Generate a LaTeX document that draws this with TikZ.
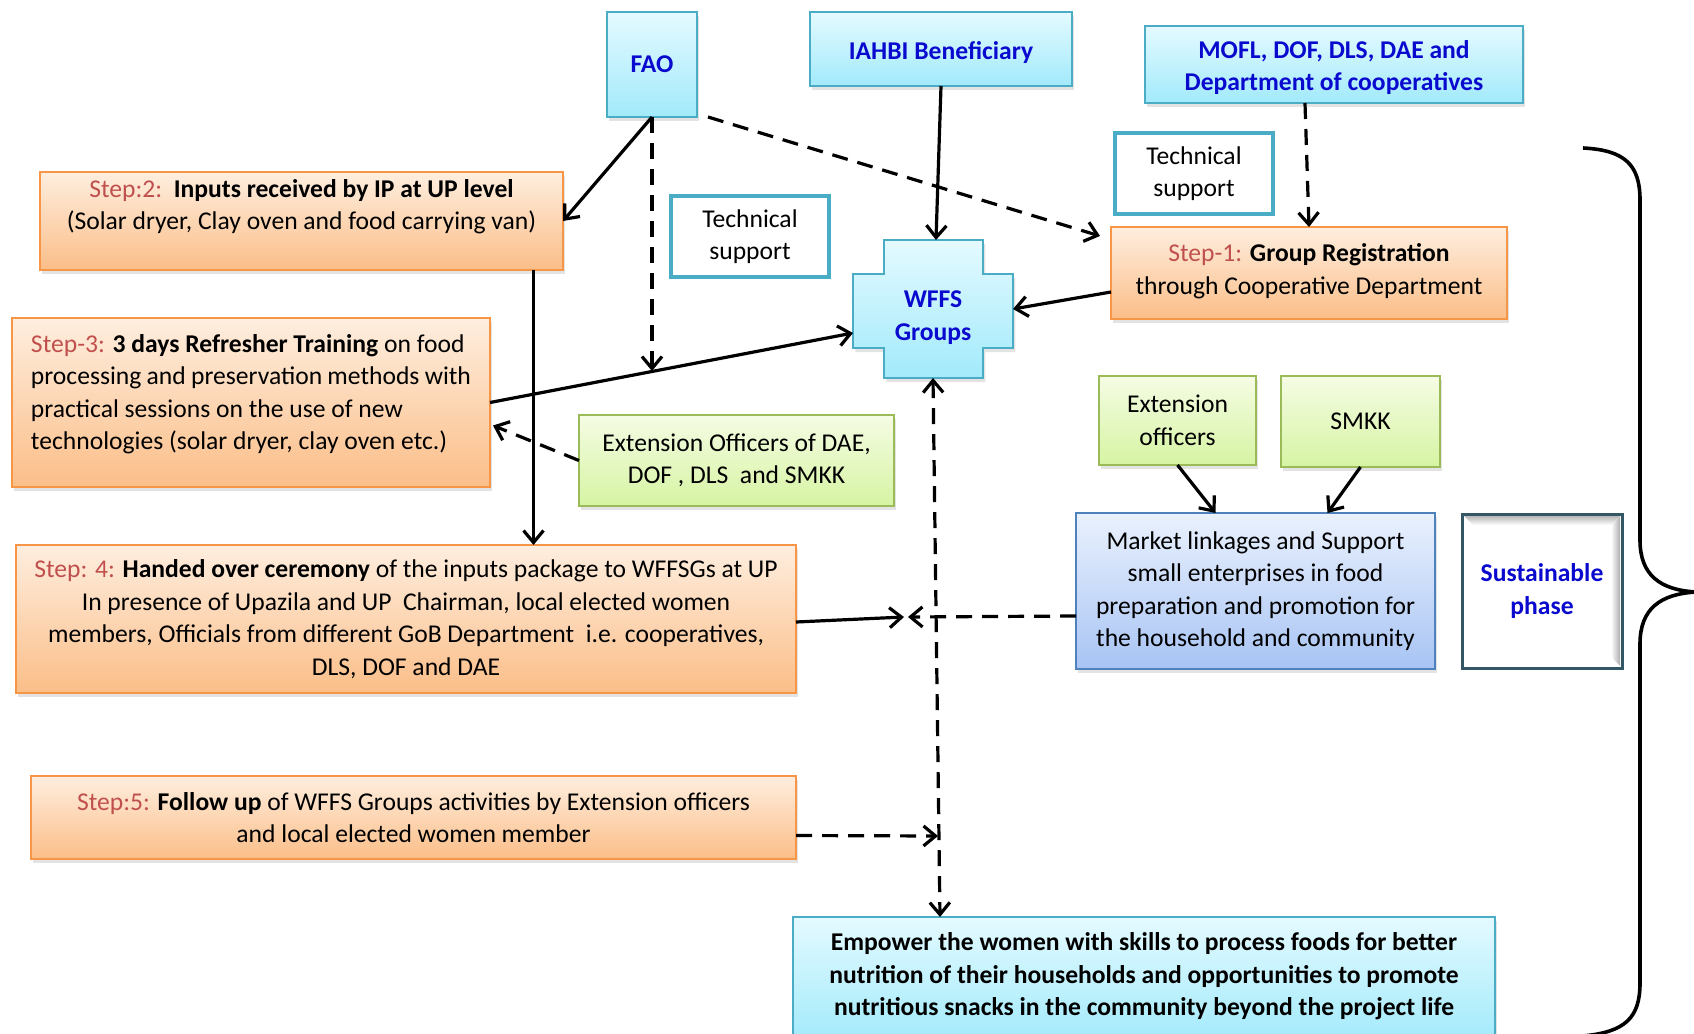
\documentclass[tikz,border=0pt]{standalone}
\usepackage{fontspec}
\setmainfont{Carlito}
\usetikzlibrary{arrows.meta,calc,shadows}
\definecolor{orB}{HTML}{F79646}
\definecolor{orT}{HTML}{FEEEDF}
\definecolor{orD}{HTML}{FBBE88}
\definecolor{cyB}{HTML}{4BACC6}
\definecolor{cyT}{HTML}{E4FAFF}
\definecolor{cyD}{HTML}{A2EAFB}
\definecolor{grB}{HTML}{9BBB59}
\definecolor{grT}{HTML}{F5FCE4}
\definecolor{grD}{HTML}{D6F4A3}
\definecolor{blB}{HTML}{4F81BD}
\definecolor{blT}{HTML}{EAF1FD}
\definecolor{blD}{HTML}{A8C4F4}
\definecolor{suB}{HTML}{345766}
\definecolor{stepred}{HTML}{C0504D}
\definecolor{ttlblue}{HTML}{0A0ACF}
\newcommand{\stp}[1]{{\color{stepred}#1}}
\begin{document}
\begin{tikzpicture}[x=0.5pt,y=-0.5pt,
  every node/.style={font=\fontsize{12.8}{16.25}\selectfont, inner sep=0pt, outer sep=0pt},
  bx/.style n args={4}{at={({(#1+#3)/2},{(#2+#4)/2})}, minimum width={(#3-#1)*0.5pt}, minimum height={(#4-#2)*0.5pt}},
  shad/.style={drop shadow={opacity=0.22, shadow xshift=1.2pt, shadow yshift=-2pt}},
  orbox/.style={draw=orB, line width=1pt, top color=orT, bottom color=orD, shad, align=center},
  cybox/.style={draw=cyB, line width=1pt, top color=cyT, bottom color=cyD, shad, align=center},
  grbox/.style={draw=grB, line width=1pt, top color=grT, bottom color=grD, shad, align=center},
  blbox/.style={draw=blB, line width=1pt, top color=blT, bottom color=blD, shad, align=center},
  techbox/.style={draw=cyB, line width=2pt, fill=white, align=center},
  susbox/.style={draw=suB, line width=1.5pt, fill=white, align=center},
  ttl/.style={font=\fontsize{12.8}{16.25}\selectfont\bfseries, text=ttlblue},
  tip/.tip={Straight Barb[length=6pt,width=10pt]},
  conn/.style={line width=1.6pt, -tip},
  dconn/.style={conn, dash pattern=on 8pt off 5pt}
]
\useasboundingbox (0,0) rectangle (1694,1034);

% top boxes
\node[cybox, ttl, bx={607}{12}{697}{117}] (fao) {FAO};
\node[cybox, ttl, bx={810}{12}{1072}{86}] (iahbi) {\mbox{}\\[-3.5pt]IAHBI Beneficiary};
\node[cybox, ttl, bx={1145}{26}{1523}{103}] (mofl) {\mbox{}\\[-4pt]MOFL, DOF, DLS, DAE and\\Department of cooperatives};

% steps
\node[orbox, bx={40}{172}{563}{270}] (step2) {\stp{Step:2:}\ \ \textbf{Inputs received by IP at UP level}\\(Solar dryer, Clay oven and food carrying van)\\[0pt]\mbox{}};
\node[techbox, bx={671}{196}{829}{277}] (tech1) {Technical\\support};
\node[techbox, bx={1115}{133}{1273}{214}] (tech2) {Technical\\support};
\node[orbox, bx={1111}{227}{1507}{319}] (step1) {\stp{Step-1:} \textbf{Group Registration}\\through Cooperative Department\\[-12pt]\mbox{}};

% WFFS cross
\path[draw=cyB, line width=1pt, top color=cyT, bottom color=cyD, shad]
  (884,240) -- (983,240) -- (983,274) -- (1013,274) -- (1013,348) -- (983,348)
  -- (983,378) -- (884,378) -- (884,348) -- (853,348) -- (853,274) -- (884,274) -- cycle;
\node[ttl, align=center, bx={853}{240}{1013}{378}] (wffs) {\mbox{}\\[1pt]WFFS\\Groups};

\node[draw=orB, line width=1pt, top color=orT, bottom color=orD, shad, bx={12}{318}{490}{487}] (step3) {\begin{minipage}{220pt}\raggedright\stp{Step-3:} \textbf{3 days Refresher Training} on food\\processing and preservation methods with\\practical sessions on the use of new\\technologies (solar dryer, clay oven etc.)\\[-6pt]\mbox{}\end{minipage}};
\node[grbox, bx={579}{415}{894}{506}] (extdae) {Extension Officers of DAE,\\DOF , DLS\ \ and SMKK};
\node[grbox, bx={1099}{376}{1256}{465}] (extoff) {Extension\\officers};
\node[grbox, bx={1281}{376}{1440}{467}] (smkk) {SMKK};
\node[blbox, bx={1076}{513}{1435}{669}] (market) {Market linkages and Support\\small enterprises in food\\preparation and promotion for\\the household and community};
\node[susbox, ttl, bx={1462}{514}{1622}{668}] (sustain) {Sustainable\\phase};
% bevel of the sustainable box
\shade[top color=black!28, bottom color=white] (1464,516) -- (1620,516) -- (1611,525) -- (1473,525) -- cycle;
\shade[left color=white, right color=black!32] (1611,525) -- (1620,516) -- (1620,666) -- (1611,657) -- cycle;
\node[draw=suB, line width=1.5pt, bx={1462}{514}{1622}{668}] (susframe) {};
\node[orbox, bx={16}{545}{796}{693}] (step4) {\stp{Step: 4:} \textbf{Handed over ceremony} of the inputs package to WFFSGs at UP\\In presence of Upazila and UP\ \ Chairman, local elected women\\members, Officials from different GoB Department\ \ i.e. cooperatives,\\DLS, DOF and DAE};
\node[orbox, bx={31}{776}{796}{859}] (step5) {\stp{Step:5:} \textbf{Follow up} of WFFS Groups activities by Extension officers\\and local elected women member};
\node[cybox, font=\fontsize{12.8}{16.25}\selectfont\bfseries, bx={793}{917}{1495}{1042}] (empower) {Empower the women with skills to process foods for better\\nutrition of their households and opportunities to promote\\nutritious snacks in the community beyond the project life\\[-11pt]\mbox{}};

% connectors
\coordinate (j1) at (652,371);
\coordinate (meet) at (906,617);
\coordinate (j2) at (938,836);
\draw[conn] (fao.south) -- (step2.east);
\draw[dconn] (fao.south) -- (j1);
\draw[dconn] ([xshift=5.5pt]fao.south east) -- ($(step1.north west)+(-11,9)$);
\draw[conn] (iahbi.south) -- ([xshift=1.5pt]wffs.north);
\draw[dconn] ([xshift=-14.5pt]mofl.south) -- (step1.north);
\draw[conn] ([yshift=-9.5pt]step1.west) -- (wffs.east);
\draw[conn] (step3.east) -- ([yshift=-12pt]wffs.west);
\draw[conn] ([xshift=116pt]step2.south) -- ([xshift=116pt]step2.south |- step4.north);
\draw[dconn] (extdae.west) -- ([xshift=1.5pt,yshift=-11.5pt]step3.east);
\draw[conn] (extoff.south) -- ([xshift=-20pt]market.north);
\draw[conn] (smkk.south) -- ([xshift=36pt]market.north);
\draw[conn] ([yshift=-1.5pt]step4.east) -- ([xshift=-1pt]meet);
\draw[dconn] ([yshift=-12.5pt]market.west) -- ([xshift=1pt]meet);
\draw[dconn, tip-tip] (wffs.south) -- ([xshift=-102pt]empower.north);
\draw[dconn] ([yshift=-9pt]step5.east) -- (j2);

% brace
\draw[line width=1.8pt] (1583,148) .. controls (1625,150) and (1640,165) .. (1640,200)
  -- (1640,540) .. controls (1640,575) and (1660,590) .. (1696,592)
  .. controls (1660,594) and (1640,609) .. (1640,644)
  -- (1640,983) .. controls (1640,1018) and (1625,1032) .. (1583,1036);
\end{tikzpicture}
\end{document}
